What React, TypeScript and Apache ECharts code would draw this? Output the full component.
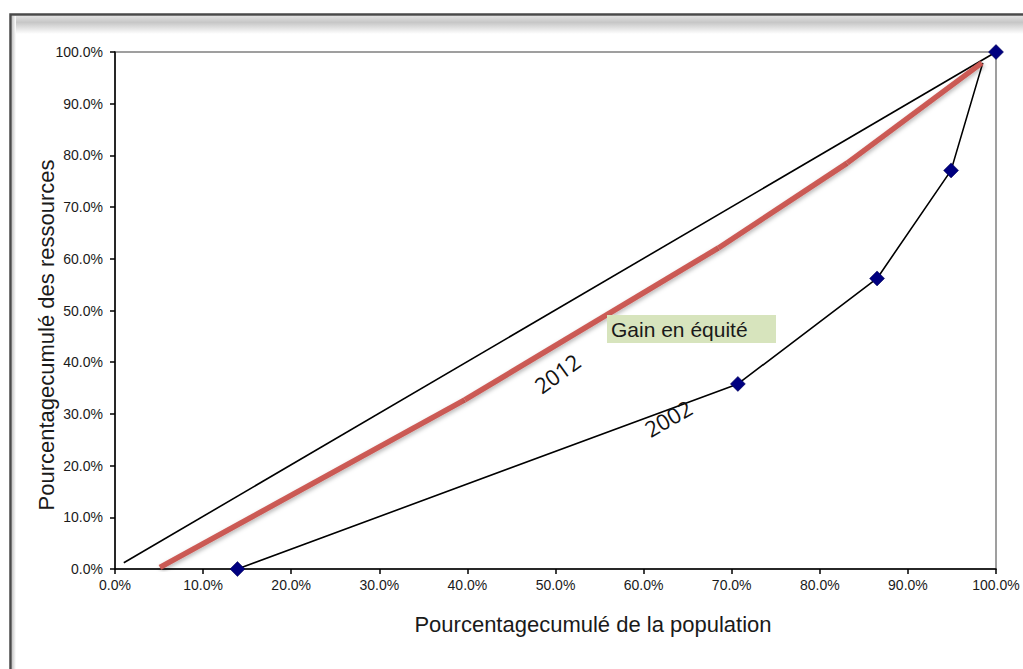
import React, { useEffect, useRef } from "react";
import * as echarts from "echarts";

// Axis ticks (percent of population / resources)
const axisTicks = [0, 10, 20, 30, 40, 50, 60, 70, 80, 90, 100];

// Line of perfect equality
const equalityLine: number[][] = [
  [1.0, 1.2],
  [100, 100],
];

// 2002 Lorenz curve: observed points and the drawn curve
const points2002: number[][] = [
  [13.9, 0],
  [70.7, 35.8],
  [86.5, 56.2],
  [94.9, 77.1],
  [100, 100],
];
const curve2002: number[][] = [
  [13.9, 0],
  [70.7, 35.8],
  [86.5, 56.2],
  [94.9, 77.1],
  [98.5, 97.9],
];

// 2012 Lorenz curve, drawn as successive strokes
const curve2012: number[][][] = [
  [
    [5.1, 0.3],
    [39.7, 32.7],
  ],
  [
    [39.7, 32.7],
    [68.5, 62.1],
  ],
  [
    [68.5, 62.1],
    [83.1, 78.5],
  ],
  [
    [83.1, 78.5],
    [98.4, 97.9],
  ],
];

const FONT = "'Liberation Sans', Arial, sans-serif";

export default function App() {
  const ref = useRef<HTMLDivElement>(null);

  useEffect(() => {
    if (!ref.current) return;
    const chart = echarts.init(ref.current, null, { renderer: "svg" });

    const redSeries = curve2012.map((seg) => ({
      type: "line" as const,
      data: seg,
      showSymbol: false,
      symbol: "none",
      z: 3,
      lineStyle: {
        color: "#c9524e",
        width: 5.5,
        cap: "butt" as const,
        opacity: 0.95,
        shadowColor: "rgba(0,0,0,0.3)",
        shadowBlur: 4,
        shadowOffsetX: 1,
        shadowOffsetY: 2,
      },
    }));

    chart.setOption({
      animation: false,
      backgroundColor: "#ffffff",
      grid: {
        left: 115,
        right: 27,
        top: 52,
        bottom: 100,
        show: true,
        borderColor: "#808080",
        borderWidth: 1.5,
        backgroundColor: "transparent",
      },
      xAxis: {
        type: "value",
        min: axisTicks[0],
        max: axisTicks[axisTicks.length - 1],
        interval: 10,
        splitLine: { show: false },
        axisLine: { show: true, onZero: false, lineStyle: { color: "#000", width: 1.5 } },
        axisTick: { show: true, length: 5, lineStyle: { color: "#000", width: 1.5 } },
        axisLabel: {
          margin: 9,
          fontFamily: FONT,
          fontSize: 14,
          color: "#1a1a1a",
          formatter: (v: number) => v.toFixed(1) + "%",
        },
      },
      yAxis: {
        type: "value",
        min: axisTicks[0],
        max: axisTicks[axisTicks.length - 1],
        interval: 10,
        splitLine: { show: false },
        axisLine: { show: true, onZero: false, lineStyle: { color: "#000", width: 1.5 } },
        axisTick: { show: true, length: 5, lineStyle: { color: "#000", width: 1.5 } },
        axisLabel: {
          margin: 12,
          fontFamily: FONT,
          fontSize: 14,
          color: "#1a1a1a",
          formatter: (v: number) => v.toFixed(1) + "%",
        },
      },
      series: [
        {
          type: "line",
          data: equalityLine,
          symbol: "none",
          z: 2,
          lineStyle: { color: "#000", width: 1.6 },
        },
        ...redSeries,
        {
          type: "line",
          data: curve2002,
          symbol: "none",
          z: 2,
          lineStyle: { color: "#000", width: 1.6 },
        },
        {
          type: "scatter",
          data: points2002,
          symbol: "diamond",
          symbolSize: 15,
          z: 5,
          itemStyle: { color: "#000080", borderColor: "#000050", borderWidth: 0.5, opacity: 1 },
        },
      ],
      graphic: [
        // chart frame
        {
          type: "rect",
          shape: { x: 12, y: 16, width: 1020, height: 18 },
          style: {
            fill: new echarts.graphic.LinearGradient(0, 0, 0, 1, [
              { offset: 0, color: "#e2e2e2" },
              { offset: 0.35, color: "#c6c6c6" },
              { offset: 1, color: "#ffffff" },
            ]),
          },
          silent: true,
          z: -1,
        },
        {
          type: "rect",
          shape: { x: 12, y: 16, width: 4, height: 660 },
          style: {
            fill: new echarts.graphic.LinearGradient(0, 0, 1, 0, [
              { offset: 0, color: "#c6c6c6" },
              { offset: 1, color: "#ffffff" },
            ]),
          },
          silent: true,
          z: -1,
        },
        {
          type: "rect",
          shape: { x: 10.5, y: 14.5, width: 1030, height: 700 },
          style: { fill: "none", stroke: "#4a4a4a", lineWidth: 2.5 },
          silent: true,
        },
        // axis titles
        {
          type: "text",
          x: 593,
          y: 624,
          style: {
            text: "Pourcentagecumulé de la population",
            fontFamily: FONT,
            fontSize: 22,
            fill: "#1a1a1a",
            align: "center",
            verticalAlign: "middle",
          },
        },
        {
          type: "text",
          x: 46,
          y: 335,
          rotation: Math.PI / 2,
          style: {
            text: "Pourcentagecumulé des ressources",
            fontFamily: FONT,
            fontSize: 22,
            fill: "#1a1a1a",
            align: "center",
            verticalAlign: "middle",
          },
        },
        // curve labels
        {
          type: "text",
          x: 557,
          y: 373,
          rotation: (36 * Math.PI) / 180,
          style: {
            text: "2012",
            fontFamily: "'Open Sans', sans-serif",
            fontSize: 22,
            fill: "#111",
            align: "center",
            verticalAlign: "middle",
          },
          z: 10,
        },
        {
          type: "text",
          x: 668,
          y: 418,
          rotation: (30 * Math.PI) / 180,
          style: {
            text: "2002",
            fontFamily: "'Open Sans', sans-serif",
            fontSize: 22,
            fill: "#111",
            align: "center",
            verticalAlign: "middle",
          },
          z: 10,
        },
        // annotation box
        {
          type: "rect",
          shape: { x: 607, y: 315, width: 169, height: 28 },
          style: { fill: "#d7e4bd" },
          z: 10,
        },
        {
          type: "text",
          x: 611,
          y: 329,
          style: {
            text: "Gain en équité",
            fontFamily: FONT,
            fontSize: 21,
            fill: "#1a1a1a",
            align: "left",
            verticalAlign: "middle",
          },
          z: 11,
        },
      ],
    });

    return () => chart.dispose();
  }, []);

  return (
    <div
      ref={ref}
      style={{ position: "fixed", left: 0, top: 0, width: 1023, height: 669, background: "#fff" }}
    />
  );
}
